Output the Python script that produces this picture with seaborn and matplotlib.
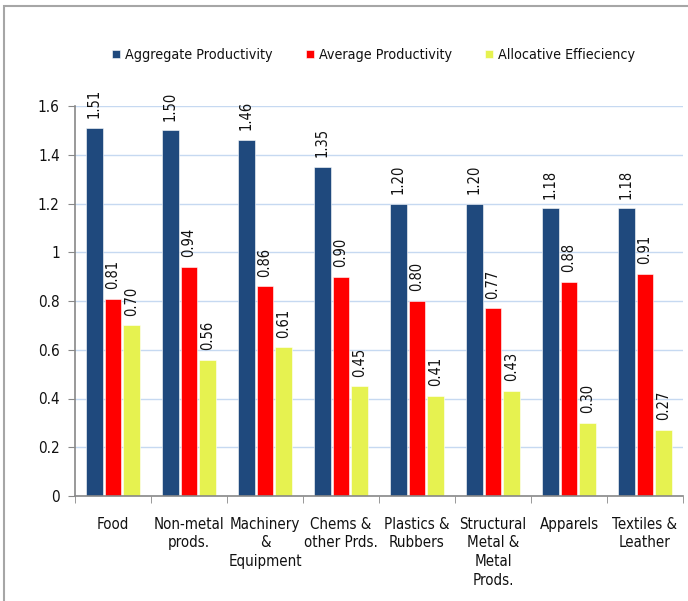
import numpy as np
import pandas as pd
import matplotlib
matplotlib.use("Agg")
import matplotlib.pyplot as plt
from matplotlib.patches import Rectangle
from matplotlib.ticker import FixedLocator, FuncFormatter
import seaborn as sns

categories = ["Food", "Non-metal\nprods.", "Machinery\n&\nEquipment", "Chems &\nother Prds.",
              "Plastics &\nRubbers", "Structural\nMetal &\nMetal\nProds.", "Apparels",
              "Textiles &\nLeather"]
series_names = ["Aggregate Productivity", "Average Productivity", "Allocative Effieciency"]
aggregate = [1.51, 1.50, 1.46, 1.35, 1.20, 1.20, 1.18, 1.18]
average = [0.81, 0.94, 0.86, 0.90, 0.80, 0.77, 0.88, 0.91]
allocative = [0.70, 0.56, 0.61, 0.45, 0.41, 0.43, 0.30, 0.27]
colors = ["#1F497D", "#FF0000", "#E6F250"]
y_ticks = [0, 0.2, 0.4, 0.6, 0.8, 1.0, 1.2, 1.4, 1.6]

df = pd.DataFrame({
    "sector": categories * 3,
    "series": [series_names[0]] * 8 + [series_names[1]] * 8 + [series_names[2]] * 8,
    "value": aggregate + average + allocative,
})

sns.set_style("white")
plt.rcParams["font.family"] = ["DejaVu Sans"]
plt.rcParams["font.stretch"] = "condensed"

fig = plt.figure(figsize=(6.88, 6.01), dpi=100)
ax = fig.add_axes([75 / 688, 1 - 496 / 601, 608 / 688, 390 / 601])

sns.barplot(data=df, x="sector", y="value", hue="series", order=categories,
            hue_order=series_names, palette=colors, saturation=1, width=0.73, gap=0.13,
            edgecolor="white", linewidth=0.4, errorbar=None, ax=ax, legend=True)

for container in ax.containers:
    ax.bar_label(container, fmt="%.2f", rotation=90, padding=7, fontsize=10.5,
                 color="#111111")

ax.set_ylim(0, 1.6)
ax.set_xlim(-0.5, len(categories) - 0.5)
ax.yaxis.set_major_locator(FixedLocator(y_ticks))
ax.yaxis.set_major_formatter(FuncFormatter(lambda v, p: f"{v:g}"))
ax.grid(axis="y", color="#C6D9F1", linewidth=1.0)
ax.set_axisbelow(True)
ax.set_xlabel("")
ax.set_ylabel("")

for side in ["top", "right"]:
    ax.spines[side].set_visible(False)
for side in ["left", "bottom"]:
    ax.spines[side].set_color("#888888")
    ax.spines[side].set_linewidth(1.2)

ax.tick_params(axis="y", which="major", direction="out", length=5, color="#888888",
               labelsize=11, pad=6, left=True, labelcolor="#111111")
ax.tick_params(axis="x", which="major", length=0, labelsize=10.8, pad=15,
               labelcolor="#111111")
ax.set_xticks(np.arange(-0.5, len(categories), 1.0), minor=True)
ax.tick_params(axis="x", which="minor", direction="out", length=5, color="#888888",
               bottom=True)
for lbl in ax.get_xticklabels():
    lbl.set_linespacing(1.3)
    lbl.set_verticalalignment("top")

handles, labels = ax.get_legend_handles_labels()
ax.legend(handles, labels, loc="center", bbox_to_anchor=(0.491, 1 + (106 - 55) / 390),
          ncol=3, frameon=False, fontsize=10.3, handlelength=0.55, handleheight=0.55,
          handletextpad=0.35, columnspacing=2.3, labelcolor="#111111")

fig.patches.append(Rectangle((4 / 688, -0.05), 1.2, 1 - 6 / 601 + 0.05,
                             transform=fig.transFigure, fill=False,
                             edgecolor="#A6A6A6", linewidth=1.5))

fig.savefig("out.png", dpi=100, facecolor="white")
